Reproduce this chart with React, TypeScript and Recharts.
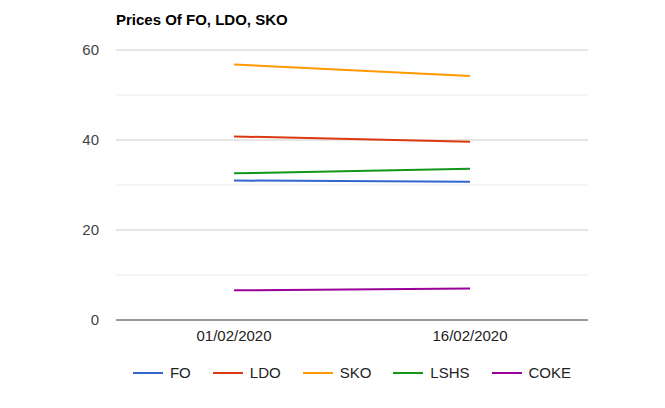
import React from 'react';
import { LineChart, Line, XAxis, YAxis, ReferenceLine, Legend } from 'recharts';

const dates = ['01/02/2020', '16/02/2020'];
const fo = [31.0, 30.7];
const ldo = [40.8, 39.6];
const sko = [56.8, 54.2];
const lshs = [32.6, 33.6];
const coke = [6.6, 7.0];

const yTicks = [0, 20, 40, 60];
const majorGrid = [20, 40, 60];
const minorGrid = [10, 30, 50];

const seriesNames = ['FO', 'LDO', 'SKO', 'LSHS', 'COKE'];
const colors = ['#3366cc', '#dc3912', '#ff9900', '#109618', '#990099'];
const seriesValues = [fo, ldo, sko, lshs, coke];

const data = dates.map((d, i) => {
  const row: Record<string, any> = { date: d };
  seriesNames.forEach((n, k) => {
    row[n] = seriesValues[k][i];
  });
  return row;
});

const FONT = '"Liberation Sans", Arial, sans-serif';

const renderLegend = () => (
  <div
    style={{
      display: 'flex',
      justifyContent: 'center',
      alignItems: 'center',
      height: 22,
      fontFamily: FONT,
      fontSize: 15,
      color: '#222',
    }}
  >
    {seriesNames.map((n, k) => (
      <div
        key={n}
        style={{ display: 'flex', alignItems: 'center', marginRight: k < seriesNames.length - 1 ? 22 : 0 }}
      >
        <div style={{ width: 30, height: 2, background: colors[k], marginRight: 7 }} />
        <span style={{ lineHeight: '22px' }}>{n}</span>
      </div>
    ))}
  </div>
);

export default function App() {
  return (
    <div style={{ position: 'absolute', left: 0, top: 0, width: 665, height: 408, background: '#fff', fontFamily: FONT }}>
      <div
        style={{
          position: 'absolute',
          left: 116,
          top: 12,
          fontSize: 15,
          lineHeight: '15px',
          fontWeight: 'bold',
          color: '#000',
          fontFamily: FONT,
          whiteSpace: 'nowrap',
        }}
      >
        Prices Of FO, LDO, SKO
      </div>
      <LineChart width={665} height={408} data={data} margin={{ top: 50, right: 77, bottom: 24, left: 0 }}>
        <XAxis
          dataKey="date"
          axisLine={false}
          tickLine={false}
          tickSize={0}
          tickMargin={10}
          height={42}
          padding={{ left: 118, right: 118 }}
          tick={{ fill: '#222', fontSize: 15, fontFamily: FONT }}
        />
        <YAxis
          domain={[0, 60]}
          ticks={yTicks}
          axisLine={false}
          tickLine={false}
          tickSize={0}
          tickMargin={17}
          width={116}
          tick={{ fill: '#444', fontSize: 15, fontFamily: FONT }}
        />
        {minorGrid.map((v) => (
          <ReferenceLine key={'mi' + v} y={v} stroke="#ebebeb" strokeWidth={1} />
        ))}
        {majorGrid.map((v) => (
          <ReferenceLine key={'ma' + v} y={v} stroke="#cccccc" strokeWidth={1} />
        ))}
        <ReferenceLine y={0} stroke="#333333" strokeWidth={1} />
        {seriesNames.map((n, k) => (
          <Line
            key={n}
            type="linear"
            dataKey={n}
            stroke={colors[k]}
            strokeWidth={2}
            dot={false}
            activeDot={false}
            isAnimationActive={false}
          />
        ))}
        <Legend
          verticalAlign="bottom"
          height={22}
          content={renderLegend}
          wrapperStyle={{ left: 116, width: 472 }}
        />
      </LineChart>
    </div>
  );
}
